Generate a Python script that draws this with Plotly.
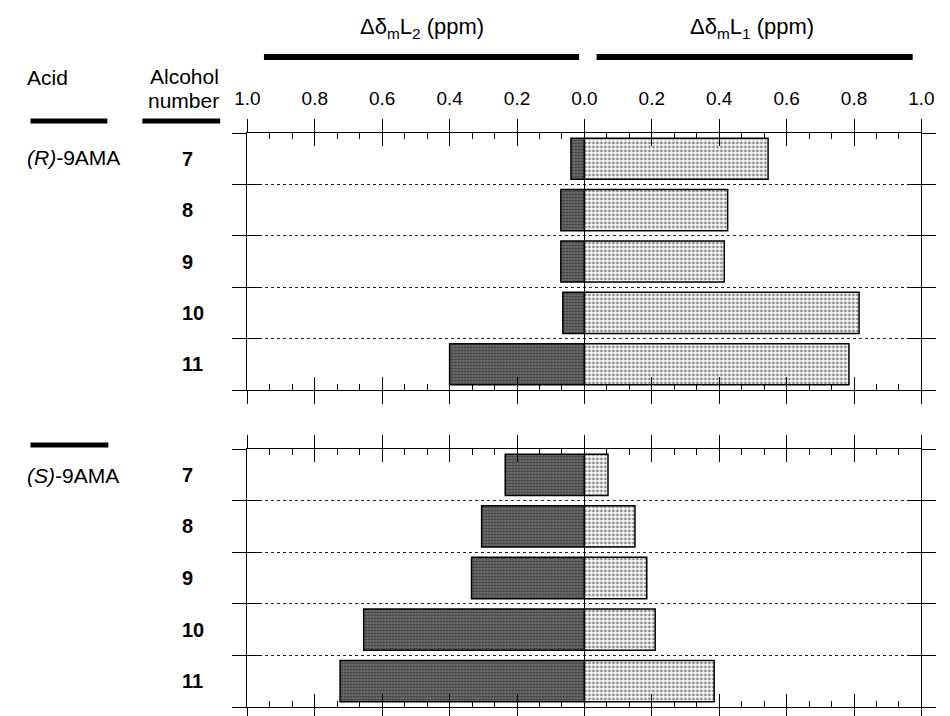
import plotly.graph_objects as go

# ---- data ----
alcohols = ["7", "8", "9", "10", "11"]
r_l2 = [0.04, 0.07, 0.07, 0.064, 0.40]     # (R)-9AMA, ΔδmL2 (plotted to the left)
r_l1 = [0.545, 0.425, 0.415, 0.815, 0.785]  # (R)-9AMA, ΔδmL1 (plotted to the right)
s_l2 = [0.235, 0.305, 0.335, 0.655, 0.725]  # (S)-9AMA, ΔδmL2
s_l1 = [0.07, 0.15, 0.185, 0.21, 0.385]     # (S)-9AMA, ΔδmL1
tick_vals = [-1.0, -0.8, -0.6, -0.4, -0.2, 0.0, 0.2, 0.4, 0.6, 0.8, 1.0]
tick_text = ["1.0", "0.8", "0.6", "0.4", "0.2", "0.0", "0.2", "0.4", "0.6", "0.8", "1.0"]

FONT = "Liberation Sans, Arial, Helvetica, sans-serif"
ypos = list(range(len(alcohols)))
row_bounds = [i - 0.5 for i in range(len(alcohols) + 1)]

W, H = 950, 716
def px(x):
    return x / W
def py(y):
    return 1 - y / H

x_dom = [px(241), px(934)]
top_dom = [py(390), py(133)]
bot_dom = [py(707), py(449)]

fig = go.Figure()

dark = dict(color="#555555", line=dict(color="black", width=1.5),
            pattern=dict(shape=".", fgcolor="#000000", bgcolor="#7c7c7c", size=3, solidity=0.5))
light = dict(color="white", line=dict(color="black", width=1.5),
             pattern=dict(shape=".", fgcolor="#111111", bgcolor="white", size=4, solidity=0.4))

for l2, l1, xa, ya in [(r_l2, r_l1, "x", "y"), (s_l2, s_l1, "x2", "y2")]:
    fig.add_trace(go.Bar(y=ypos, x=[-v for v in l2], orientation="h", width=0.8,
                         xaxis=xa, yaxis=ya, marker=dark, showlegend=False, hoverinfo="skip"))
    fig.add_trace(go.Bar(y=ypos, x=l1, orientation="h", width=0.8,
                         xaxis=xa, yaxis=ya, marker=light, showlegend=False, hoverinfo="skip"))

# dummy traces so the overlay axes are drawn
for xa, ya in [("x3", "y3"), ("x4", "y4")]:
    fig.add_trace(go.Scatter(x=[None], y=[None], xaxis=xa, yaxis=ya, showlegend=False, hoverinfo="skip"))

def main_x(domain, anchor):
    return dict(domain=domain, anchor=anchor, range=[-1, 1], showline=True, linecolor="black",
                linewidth=1.2, mirror="allticks", ticks="inside", ticklen=13, tickwidth=1.2,
                tickcolor="black", tickmode="array", tickvals=tick_vals, showticklabels=False,
                showgrid=False, zeroline=True, zerolinecolor="black", zerolinewidth=1.2,
                minor=dict(ticks="inside", ticklen=6, tickwidth=1, tickcolor="black",
                           tickmode="linear", tick0=0, dtick=0.2 / 3, showgrid=False),
                fixedrange=True)

def over_x(over, anchor, labels):
    return dict(overlaying=over, anchor=anchor, range=[-1, 1], side="top",
                ticks="outside", ticklen=13, tickwidth=1.2, tickcolor="black", mirror="allticks",
                tickmode="array", tickvals=tick_vals, ticktext=tick_text,
                showticklabels=labels, tickfont=dict(family=FONT, size=19, color="black"),
                ticklabelstandoff=6, showline=False, showgrid=False, zeroline=False, fixedrange=True)

def main_y(domain, anchor):
    return dict(domain=domain, anchor=anchor, range=[len(alcohols) - 0.5, -0.5], showline=True,
                linecolor="black", linewidth=1.2, mirror="allticks", ticks="inside", ticklen=14,
                tickwidth=1.2, tickcolor="black", tickmode="array", tickvals=row_bounds,
                showticklabels=False, showgrid=True, gridcolor="#222222", griddash="dot",
                gridwidth=1, zeroline=False, fixedrange=True)

def over_y(over, anchor):
    return dict(overlaying=over, anchor=anchor, range=[len(alcohols) - 0.5, -0.5],
                ticks="outside", ticklen=14, tickwidth=1.2, tickcolor="black", mirror="allticks",
                tickmode="array", tickvals=row_bounds, showticklabels=False, showline=False,
                showgrid=False, zeroline=False, fixedrange=True)

fig.update_layout(
    width=W, height=H, margin=dict(l=0, r=0, t=0, b=0),
    paper_bgcolor="white", plot_bgcolor="white", barmode="overlay",
    font=dict(family=FONT, size=19, color="black"),
    xaxis=main_x(x_dom, "y"), yaxis=main_y(top_dom, "x"),
    xaxis2=main_x(x_dom, "y2"), yaxis2=main_y(bot_dom, "x2"),
    xaxis3=over_x("x", "y", True), yaxis3=over_y("y", "x"),
    xaxis4=over_x("x2", "y2", False), yaxis4=over_y("y2", "x2"),
)

ann = []
def text(x, y, s, xanchor="center", size=19, xref="paper", yref="paper"):
    ann.append(dict(x=x, y=y, xref=xref, yref=yref, text=s, showarrow=False,
                    xanchor=xanchor, yanchor="middle", font=dict(family=FONT, size=size, color="black")))

# headers
text(px(421), py(28), "Δδ<sub>m</sub>L<sub>2</sub> (ppm)", size=22)
text(px(760), py(28), "Δδ<sub>m</sub>L<sub>1</sub> (ppm)", size=22)
text(px(12), py(78), "Acid", xanchor="left", size=21)
text(px(214), py(77), "Alcohol", xanchor="right", size=21)
text(px(214), py(100), "number", xanchor="right", size=21)
text(px(12), py(158), "<i>(R)</i>-9AMA", xanchor="left", size=21)
text(px(12), py(475), "<i>(S)</i>-9AMA", xanchor="left", size=21)

for i, a in enumerate(alcohols):
    text(px(172), i, "<b>" + a + "</b>", xanchor="left", size=20, yref="y")
    text(px(172), i, "<b>" + a + "</b>", xanchor="left", size=20, yref="y2")

fig.update_layout(annotations=ann)

shapes = []
def hbar(x0, x1, y, w):
    shapes.append(dict(type="line", xref="paper", yref="paper", x0=px(x0), x1=px(x1),
                       y0=py(y), y1=py(y), line=dict(color="black", width=w)))
hbar(258, 582, 57, 6)
hbar(600, 925, 57, 6)
hbar(18, 97, 121, 5)
hbar(133, 213, 121, 5)
hbar(18, 98, 445, 5)
fig.update_layout(shapes=shapes)

fig.write_html("out.html")
